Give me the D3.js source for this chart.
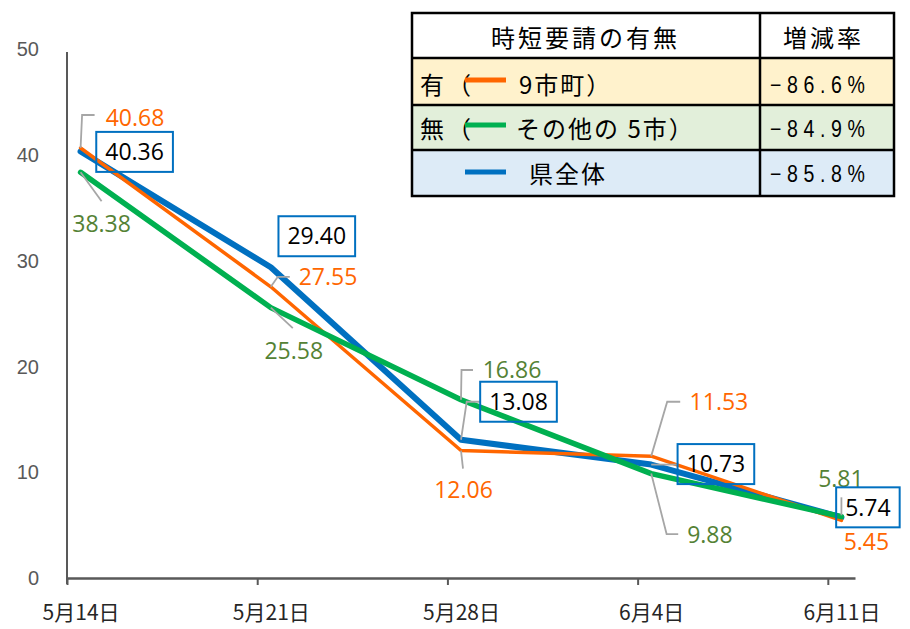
<!DOCTYPE html>
<html><head><meta charset="utf-8">
<script src="https://cdn.jsdelivr.net/npm/d3@7"></script>
<style>body{margin:0;background:#fff} svg{display:block}</style>
</head><body><svg id="c" width="910" height="629"></svg>
<script>
// ---- data ----
const dates = ["2021-05-14","2021-05-21","2021-05-28","2021-06-04","2021-06-11"];
const tickLabels = ["5月14日","5月21日","5月28日","6月4日","6月11日"];
const yTicks = [0,10,20,30,40,50];
const withReq = [40.68,27.55,12.06,11.53,5.45];     // 有（9市町）
const withoutReq = [38.38,25.58,16.86,9.88,5.81];  // 無（その他の 5市）
const wholePref = [40.36,29.40,13.08,10.73,5.74];  // 県全体
const headerLabels = ["時短要請の有無","増減率"];
const rowPrefix = ["有（","無（",""];
const rowNames = ["9市町）","その他の 5市）","県全体"];
const changeRates = ["−86.6%","−84.9%","−85.8%"];

// ---- layout / style (not data) ----
const C = {orange:"#FF6600", green:"#00B050", greenText:"#548235", blue:"#0070C0", axis:"#595959", leader:"#A6A6A6"};
const orangeLbl = [[54.4,-30.5],[57.2,-9.8],[2.5,39.5],[67.7,-54.6],[25,21]];
const orangeLead = [[[0,0],[1.5,-33],[14,-33]],[[0,0],[7,-10],[19,-10]],[[0,0],[2,18]],[[0,0],[16,-54.4],[29,-54.4]],null];
const greenLbl = [[21,51],[23,43.4],[51,-30],[58.7,61.4],[-0.5,-38]];
const greenLead = [[[0,0],[21,29]],[[0,0],[22,20.5]],[[0,0],[0.5,-29.8],[12,-29.8]],[[0,0],[15.4,60.5],[27,60.5]],null];
const blueLbl = [[54,0.5],[46,-31],[57.5,-38],[64.7,-0.5],[26.5,-10]];
const blueLead = [null,null,[[0,0],[5.7,-38],[19,-38]],[[0,0],[26.4,0]],[[0,-2],[0,-20]]];

const svg = d3.select("#c");
const parse = d3.timeParse("%Y-%m-%d");
const dts = dates.map(parse);
const halfDay = d => d3.timeHour.offset(d, 12);
const x = d3.scaleTime().domain([dts[0], d3.timeDay.offset(dts[4], 1)]).range([67, 855]);
const y = d3.scaleLinear().domain([0, 50]).range([578, 49.5]);

// y axis
const yAx = svg.append("g").attr("transform","translate(67,0)")
  .call(d3.axisLeft(y).tickValues(yTicks).tickSize(0).tickPadding(28));
yAx.select(".domain").attr("stroke", C.axis).attr("stroke-width", 2).attr("d","M0,52V584");
yAx.selectAll("text").attr("font-family","Liberation Sans, Arial, sans-serif").attr("font-size",20).attr("fill",C.axis);

// x axis
const xAx = svg.append("g").attr("transform","translate(0,578)")
  .call(d3.axisBottom(x).tickValues(dts).tickSize(7).tickSizeOuter(0).tickFormat((d,i)=>tickLabels[i]));
xAx.select(".domain").attr("stroke", C.axis).attr("stroke-width", 2.5);
xAx.selectAll(".tick line").attr("stroke", C.axis).attr("stroke-width", 2);
const hd = x(halfDay(dts[0])) - x(dts[0]);
xAx.selectAll(".tick text").attr("x", hd).attr("y", 42).attr("dy", 0)
  .attr("font-family","Noto Sans CJK JP, sans-serif").attr("font-size",21).attr("fill","#262626");

// lines
const line = d3.line().x((d,i)=>x(halfDay(dts[i]))).y(d=>y(d));
const series = [
  {v: wholePref, col: C.blue, w: 6},
  {v: withReq, col: C.orange, w: 3.5},
  {v: withoutReq, col: C.green, w: 5.5}
];
series.forEach(s => svg.append("path").datum(s.v).attr("d", line)
  .attr("fill","none").attr("stroke", s.col).attr("stroke-width", s.w).attr("stroke-linejoin","round").attr("stroke-linecap","round"));

// labels
const lblFont = "Open Sans, Liberation Sans, sans-serif";
function labels(vals, offs, leads, color, boxed) {
  vals.forEach((v,i) => {
    const px = x(halfDay(dts[i])), py = y(v);
    if (leads[i]) svg.append("polyline")
      .attr("points", leads[i].map(p => [px+p[0], py+p[1]].join(",")).join(" "))
      .attr("fill","none").attr("stroke", C.leader).attr("stroke-width", 1.8);
    const cx = px + offs[i][0], cy = py + offs[i][1];
    const t = svg.append("text").attr("x", cx).attr("y", cy + 8.2).attr("text-anchor","middle")
      .attr("font-family", lblFont).attr("font-size", 23).attr("fill", color).text(v.toFixed(2));
    if (boxed) {
      const w = t.node().getComputedTextLength() + 18;
      svg.insert("rect", () => t.node()).attr("x", cx - w/2).attr("y", cy - 20).attr("width", w).attr("height", 40)
        .attr("fill","none").attr("stroke", C.blue).attr("stroke-width", 2);
    }
  });
}
labels(withReq, orangeLbl, orangeLead, C.orange, false);
labels(withoutReq, greenLbl, greenLead, C.greenText, false);
labels(wholePref, blueLbl, blueLead, "#000", true);

// legend table
const T = {x0:412, x1:760, x2:894, rows:[13,58,105,150,196]};
const rowBg = ["#FFFFFF","#FFF2CC","#E2EFDA","#DDEBF7"];
const tg = svg.append("g");
rowBg.forEach((c,i)=> tg.append("rect").attr("x",T.x0).attr("y",T.rows[i]).attr("width",T.x2-T.x0).attr("height",T.rows[i+1]-T.rows[i]).attr("fill",c));
const cjk = "Noto Sans CJK JP, sans-serif";
tg.append("text").attr("x",491).attr("y",47).attr("font-family",cjk).attr("font-size",24).attr("letter-spacing",3).attr("fill","#000").text(headerLabels[0]);
tg.append("text").attr("x",783).attr("y",47).attr("font-family",cjk).attr("font-size",24).attr("letter-spacing",3).attr("fill","#000").text(headerLabels[1]);
const rowCenters = [84.5, 128.5, 173.5];
const lineYs = [80, 125, 172];
const lineCols = [C.orange, C.green, C.blue];
const nameX = [519, 516, 529];
rowCenters.forEach((cy,i)=>{
  tg.append("text").attr("x",420).attr("y",cy+9).attr("font-family",cjk).attr("font-size",24).attr("letter-spacing",3).text(rowPrefix[i]);
  tg.append("line").attr("x1",465).attr("x2",506).attr("y1",lineYs[i]).attr("y2",lineYs[i]).attr("stroke",lineCols[i]).attr("stroke-width",5);
  tg.append("text").attr("x",nameX[i]).attr("y",cy+9).attr("font-family",cjk).attr("font-size",24).attr("letter-spacing",2).text(rowNames[i]);
  tg.append("text").attr("transform",`translate(770,${cy+8.5}) scale(0.85,1)`)
    .attr("font-family","Liberation Sans, sans-serif").attr("font-size",23)
    .attr("textLength",95/0.85).attr("lengthAdjust","spacing").text(changeRates[i]);
});
// borders
tg.append("rect").attr("x",T.x0).attr("y",T.rows[0]).attr("width",T.x2-T.x0).attr("height",T.rows[4]-T.rows[0]).attr("fill","none").attr("stroke","#000").attr("stroke-width",2.5);
T.rows.slice(1,4).forEach(r=> tg.append("line").attr("x1",T.x0).attr("x2",T.x2).attr("y1",r).attr("y2",r).attr("stroke","#000").attr("stroke-width",2.5));
tg.append("line").attr("x1",T.x1).attr("x2",T.x1).attr("y1",T.rows[0]).attr("y2",T.rows[4]).attr("stroke","#000").attr("stroke-width",2.5);
</script></body></html>
